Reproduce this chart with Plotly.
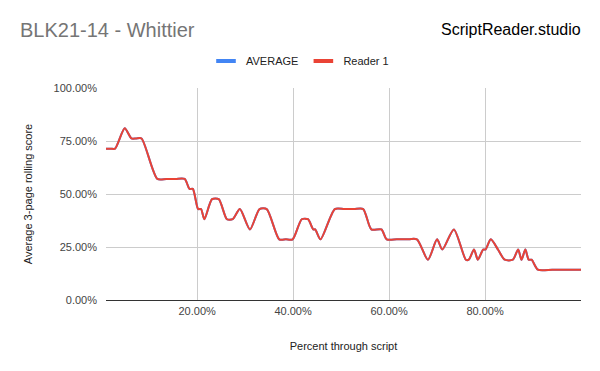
import plotly.graph_objects as go

# Percent through script (x) and 3-page rolling score (y), both in percent
pct_through = [1.0, 2.0, 2.9, 4.9, 6.3, 7.3, 8.4, 11.7, 13.6, 15.5, 17.4, 18.4, 19.1,
               20.2, 20.8, 21.5, 23.1, 24.5, 26.2, 27.4, 28.9, 31.0, 33.0, 34.5,
               37.1, 38.5, 39.9, 41.8, 43.1, 44.2, 44.6, 45.7, 48.7, 50.7, 52.7,
               54.6, 56.3, 58.4, 59.5, 61.6, 63.7, 65.8, 68.1, 70.0, 71.1, 73.5,
               76.0, 76.6, 77.7, 78.5, 79.6, 80.1, 81.2, 82.7, 84.1, 85.8, 86.9,
               87.6, 88.4, 89.1, 89.7, 91.0, 94.0, 97.0, 100.0]
score = [71.4, 71.4, 71.4, 81.0, 76.2, 76.2, 76.2, 57.1, 57.1, 57.1, 57.1, 52.4, 52.4,
         42.9, 42.9, 38.1, 47.6, 47.6, 38.1, 38.1, 42.9, 33.3, 42.9, 42.9,
         28.6, 28.6, 28.6, 38.1, 38.1, 33.3, 33.3, 28.6, 42.9, 42.9, 42.9,
         42.9, 33.3, 33.3, 28.6, 28.6, 28.6, 28.6, 19.0, 28.6, 23.8, 33.3,
         19.0, 19.0, 23.8, 19.0, 23.8, 23.8, 28.6, 23.8, 19.0, 19.0, 23.8,
         19.0, 23.8, 19.0, 19.0, 14.3, 14.3, 14.3, 14.3]
average = list(score)

x_ticks = [20, 40, 60, 80, 100]
x_tick_labels = ["20.00%", "40.00%", "60.00%", "80.00%", ""]
y_ticks = [0, 25, 50, 75, 100]
y_tick_labels = ["0.00%", "25.00%", "50.00%", "75.00%", "100.00%"]

FONT = "Liberation Sans, Arial, sans-serif"
BLUE = "#4285F4"
RED = "#EA4335"

# page body has an 8px margin; the figure is sized to fill the rest of the window
OFF = 8
W, H = 600 - OFF, 371 - OFF
L, R, T, B = 106 - OFF, 19, 88 - OFF, 71
PH = H - T - B
PW = W - L - R

fig = go.Figure()
fig.add_trace(go.Scatter(x=pct_through, y=average, mode="lines", name="AVERAGE",
                         showlegend=False,
                         line=dict(color=BLUE, width=2, shape="spline", smoothing=0.7)))
fig.add_trace(go.Scatter(x=pct_through, y=score, mode="lines", name="Reader 1",
                         showlegend=False,
                         line=dict(color=RED, width=2, shape="spline", smoothing=0.7)))
# legend entries (short thick bars like the original)
for name, col in [("AVERAGE", BLUE), ("Reader 1", RED)]:
    fig.add_trace(go.Scatter(x=[None], y=[None], mode="markers", name=name,
                             marker=dict(symbol="line-ew", size=14,
                                         line=dict(width=4, color=col))))

fig.update_layout(
    width=W, height=H,
    margin=dict(l=L, r=R, t=T, b=B),
    paper_bgcolor="white", plot_bgcolor="white",
    font=dict(family=FONT, size=11, color="#444444"),
    title=dict(text="BLK21-14 - Whittier", x=(20 - OFF) / W, xanchor="left",
               y=1 - (30 - OFF) / H, yanchor="middle", xref="container", yref="container",
               font=dict(family=FONT, size=20, color="#757575")),
    legend=dict(orientation="h", x=(300 - 106) / PW, xanchor="center", y=(300 - 61) / PH,
                yanchor="middle", font=dict(family=FONT, size=11, color="#222222"),
                itemwidth=30, bgcolor="rgba(0,0,0,0)"),
    showlegend=True,
    xaxis=dict(range=[1.0, 100.0], tickvals=x_ticks, ticktext=x_tick_labels,
               showgrid=True, gridcolor="#cccccc", gridwidth=1, zeroline=False,
               showline=False, ticks="", ticklabelstandoff=3,
               title=dict(text="Percent through script", standoff=26,
                          font=dict(family=FONT, size=11, color="#222222"))),
    yaxis=dict(range=[0, 100], tickvals=y_ticks, ticktext=y_tick_labels,
               showgrid=True, gridcolor="#cccccc", gridwidth=1,
               zeroline=True, zerolinecolor="#333333", zerolinewidth=1,
               showline=False, ticks="", ticklabelstandoff=8,
               title=dict(text="Average 3-page rolling score", standoff=18,
                          font=dict(family=FONT, size=11, color="#222222"))),
    annotations=[dict(text="ScriptReader.studio", xref="paper", yref="paper",
                      x=(583 - 106) / PW, y=(300 - 30) / PH, xanchor="right",
                      yanchor="middle", showarrow=False,
                      font=dict(family=FONT, size=16, color="#000000"))],
)

fig.write_html("out.html")
